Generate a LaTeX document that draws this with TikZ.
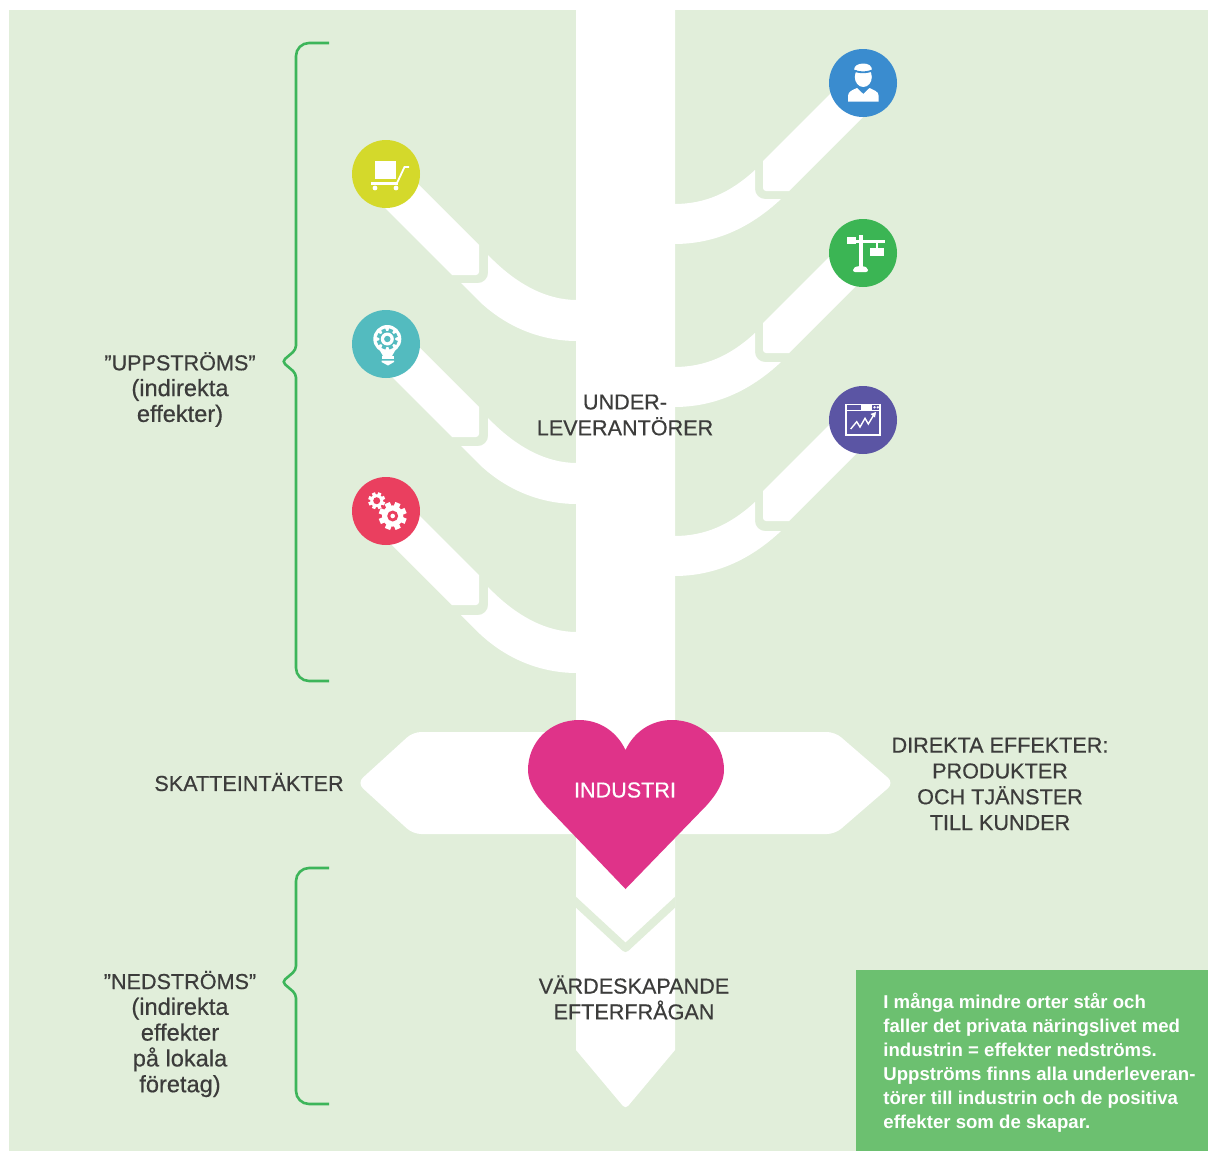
\documentclass[tikz,border=0pt]{standalone}
\usepackage{fontspec}
\setmainfont{Liberation Sans}
\newfontfamily\labelfont[FakeBold=0.5]{Liberation Sans}
\definecolor{bggreen}{HTML}{E1EEDA}
\definecolor{boxgreen}{HTML}{6CC070}
\definecolor{bracegreen}{HTML}{3DB55A}
\definecolor{txtgrey}{HTML}{3C3C3B}
\definecolor{heartpink}{HTML}{DF3389}
\definecolor{ballcart}{HTML}{D4D92B}
\definecolor{ballbulb}{HTML}{53BBBF}
\definecolor{ballgears}{HTML}{EA3F5F}
\definecolor{ballman}{HTML}{3A8CCF}
\definecolor{ballcrane}{HTML}{3BB554}
\definecolor{ballchart}{HTML}{5B55A4}
\newcommand{\gearicon}[4]{%
  \fill[#4] (#1,#2) circle (#3*0.76);
  \foreach \a in {0,45,...,315}
    \draw[#4,line width=#3*0.2pt] (#1,#2) -- ++(\a+22:#3);
}
\newcommand{\lowline}[1]{{\fontsize{11.8}{12.9}\selectfont #1}}

\begin{document}
\begin{tikzpicture}[x=0.5pt,y=-0.5pt]
  \tikzstyle{iconball}=[circle,draw=none,minimum size=34pt,inner sep=0pt]
  \tikzstyle{label}=[inner sep=0pt,align=center,text=txtgrey,font=\labelfont\fontsize{10.8}{12.9}\selectfont]
  \tikzstyle{brace}=[draw=bracegreen,line width=1.3pt,rounded corners=6.5pt]

  \useasboundingbox (0,0) rectangle (1208,1151);
  \fill[white] (0,0) rectangle (1208,1151);
  \fill[bggreen] (9,10) rectangle (1208,1151);

  % branches on the left
  \foreach \da/\db in {0/0,162/163,330/332} {
    \fill[white] (488,255+\db) [rounded corners=5pt] -- (488,283+\db) [sharp corners] -- (461,283+\db)
      -- (480,302+\db) .. controls (510,330+\db) and (545,341+\db) .. (577,341+\db)
      -- (577,300+\db) .. controls (545,300+\db) and (515,283+\db) .. (488,255+\db) -- cycle;
    \fill[white] (399,165+\da) -- (479,245+\da) [rounded corners=1.5pt] -- (479,275+\da) [sharp corners]
      -- (452,275+\da) -- (372,195+\da) -- cycle;
  }
  % branches on the right
  \foreach \da/\db in {0/0,162/163,330/332} {
    \fill[white] (755,170+\db) [rounded corners=5pt] -- (755,199+\db) [sharp corners] -- (781,199+\db)
      .. controls (750,228+\db) and (715,244+\db) .. (674,244+\db)
      -- (674,204+\db) .. controls (705,204+\db) and (730,193+\db) .. (755,170+\db) -- cycle;
    \fill[white] (843,81+\da) -- (763,161+\da) [rounded corners=1.5pt] -- (763,191+\da) [sharp corners]
      -- (789,191+\da) -- (869,111+\da) -- cycle;
  }

  % trunk and side arrows
  \fill[white] (576,0) -- (675,0) -- (675,1050) [rounded corners=2pt] -- (625.5,1109) [sharp corners] -- (576,1050) -- cycle;
  \fill[white,rounded corners=4pt] (625,732) -- (413,732) -- (357,783) -- (413,834) -- (625,834) -- cycle;
  \fill[white,rounded corners=4pt] (625,732) -- (835,732) -- (894,783) -- (835,834) -- (625,834) -- cycle;
  \begin{scope}
    \clip (576,880) rectangle (675,960);
    \draw[bggreen,line width=4pt,line join=round] (566,893) -- (625.5,948) -- (685,893);
  \end{scope}

  % heart
  \fill[heartpink] (625.5,889) -- (546,806) .. controls (535,794) and (528,782) .. (528,770)
    .. controls (528,742) and (550,720) .. (579,720) .. controls (600,720) and (617,732) .. (625.5,750)
    .. controls (634,732) and (651,720) .. (672,720) .. controls (701,720) and (724,742) .. (724,770)
    .. controls (724,782) and (717,794) .. (706,806) -- cycle;

  % circles
  \node[iconball,fill=ballcart] (cart) at (386,174) {};
  \node[iconball,fill=ballbulb] (bulb) at (386,344) {};
  \node[iconball,fill=ballgears] (gears) at (386,511) {};
  \node[iconball,fill=ballman] (man) at (863,83) {};
  \node[iconball,fill=ballcrane] (crane) at (863,253) {};
  \node[iconball,fill=ballchart] (chart) at (863,420) {};

  % cart icon
  \fill[white] (375,161) rectangle (396,179);
  \fill[white] (371,182) rectangle (398,184.5);
  \draw[white,line width=0.9pt] (397,183) -- (404.5,167) -- (409,167);
  \fill[white] (375,188) circle (2.4) (396,188) circle (2.4);

  % bulb icon
  \fill[white] (379,349) -- (383,356) -- (392,356) -- (396,349) -- cycle;
  \fill[white] (387.3,339) circle (14);
  \gearicon{387.3}{339}{10.5}{ballbulb}
  \fill[white] (387.3,339) circle (6.5);
  \fill[ballbulb] (387.3,339) circle (3.2);
  \fill[white] (381.5,356) rectangle (394,359.3);
  \fill[white] (381.5,360.5) -- (394,360.5) -- (394,362) -- (388,365.5) -- (381.5,362) -- cycle;

  % gears icon
  \gearicon{376.7}{500.7}{8.5}{white}
  \fill[ballgears] (376.7,500.7) circle (3.5);
  \gearicon{392.7}{516}{14}{white}
  \fill[ballgears] (392.7,516) circle (5.5);
  \fill[white] (392.7,516) circle (2.3);

  % man icon
  \fill[white] (863.3,77) ellipse (8.5 and 10);
  \fill[white] (854,70) .. controls (854,66) and (858,63.5) .. (863.3,63.5)
    .. controls (868.5,63.5) and (872,66) .. (872,70) -- cycle;
  \draw[ballman,line width=0.9pt] (853,70) .. controls (858,73) and (868,73) .. (873,70);
  \fill[white] (848,101.7) -- (848,96) .. controls (848,91) and (853,90) .. (857,88) -- (863.3,94)
    -- (869.5,88) .. controls (873,90) and (878.7,91) .. (878.7,96) -- (878.7,101.7) -- cycle;

  % crane icon
  \fill[white] (858.7,235) rectangle (862.7,268);
  \fill[white,rounded corners=1pt] (853,272) -- (853,268) -- (858,266) -- (863,266) -- (868,268) -- (868,272) -- cycle;
  \fill[white] (855,239.5) rectangle (885,242.5);
  \fill[white] (846.7,236.7) rectangle (855.7,244.3);
  \fill[white] (870,248.3) rectangle (884,255.7);
  \fill[white] (876,242) rectangle (878,249);

  % chart icon
  \draw[white,line width=0.8pt] (846,404.5) rectangle (880,435);
  \draw[white,line width=0.5pt] (846,410.5) -- (880,410.5);
  \fill[white] (860.5,404) rectangle (872,410);
  \fill[white] (874.5,407.3) circle (1.3) (877.8,407.3) circle (1.3);
  \draw[white,line width=0.7pt] (850.7,429) -- (856.7,421.7) -- (860,427) -- (865,418.3) -- (868.3,424) -- (874,414.5);
  \fill[white] (876,412) -- (870.5,414) -- (875,417.5) -- cycle;

  % braces
  \foreach \ya/\yb/\yc in {43/361.5/681,868/982/1104} {
    \draw[brace] (329,\ya) -- (296,\ya) -- (296,\yb-12) [rounded corners=2pt] -- (296,\yb-12) -- (282,\yb)
      -- (296,\yb+12) [rounded corners=6.5pt] -- (296,\yc) -- (329,\yc);
  }

  % labels
  \node[label] (upstream) at (180,389.5) {”UPPSTRÖMS”\\\lowline{(indirekta}\\\lowline{effekter)}};
  \node[label] (downstream) at (180,1034) {”NEDSTRÖMS”\\\lowline{(indirekta}\\\lowline{effekter}\\\lowline{på lokala}\\\lowline{företag)}};
  \node[label] (suppliers) at (625,415) {UNDER-\\LEVERANTÖRER};
  \node[label] (tax) at (249,782) {SKATTEINTÄKTER};
  \node[label] (direct) at (1000,784) {DIREKTA EFFEKTER:\\PRODUKTER\\OCH TJÄNSTER\\TILL KUNDER};
  \node[label] (demand) at (634,997.5) {VÄRDESKAPANDE\\EFTERFRÅGAN};
  \node[label,text=white] (industry) at (625,790) {INDUSTRI};

  % info box
  \fill[boxgreen] (856,970) rectangle (1208,1151);
  \node[inner sep=0pt,align=left,anchor=west,text=white,font=\fontsize{9.3}{12}\selectfont\bfseries] (info) at (883,1063)
    {I många mindre orter står och\\faller det privata näringslivet med\\industrin = effekter nedströms.\\Uppströms finns alla underleveran-\\törer till industrin och de positiva\\effekter som de skapar.};

\end{tikzpicture}
\end{document}
